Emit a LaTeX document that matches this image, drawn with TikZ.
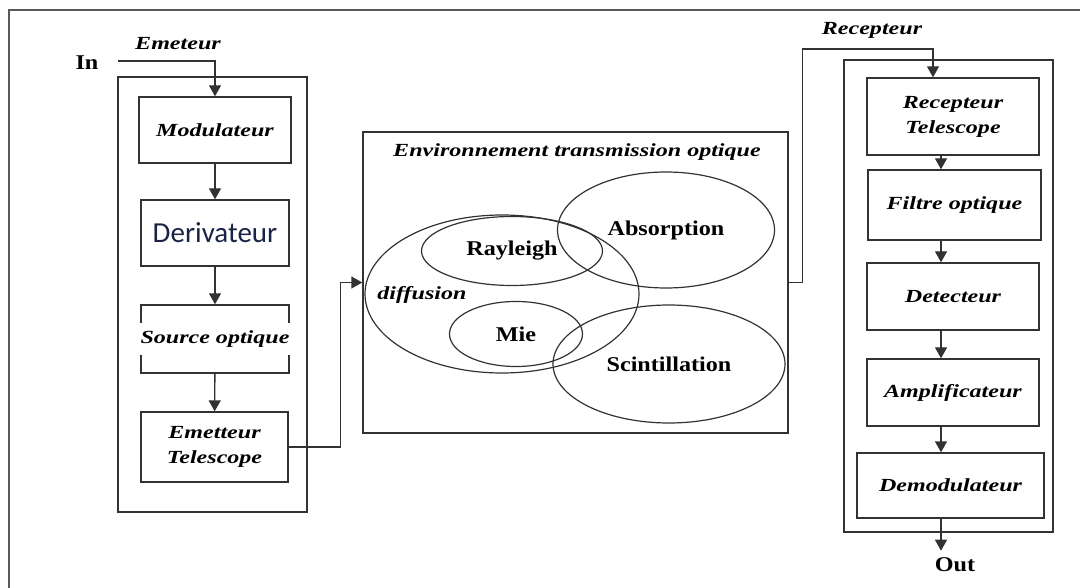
\documentclass[tikz,border=0pt]{standalone}
\usepackage{fontspec}
\setmainfont{Liberation Serif}
\newfontfamily\itfont[FakeStretch=1.3]{Liberation Serif}
\newfontfamily\bffont[FakeStretch=1.15]{Liberation Serif}
\newfontfamily\sansfont{Carlito}
\usepackage{tikz}
\usetikzlibrary{arrows.meta,positioning,shapes.geometric}
\definecolor{ink}{RGB}{50,50,50}
\definecolor{navy}{RGB}{25,35,70}

\begin{document}
\begin{tikzpicture} [x=1pt, y=-1pt,
  lab/.style={font=\itfont\bfseries\itshape\fontsize{18.5}{22}\selectfont, inner sep=0pt},
  gras/.style={font=\bffont\bfseries\fontsize{21}{24}\selectfont, inner sep=0pt},
  cadre/.style={draw=ink, line width=1.4pt, inner sep=0pt},
  blok/.style={cadre, lab, align=center},
  bulle/.style={ellipse, draw=ink, line width=1.2pt, gras},
  trait/.style={draw=ink, line width=1.4pt},
  fl/.style={trait, -{Triangle[width=12pt,length=11pt]}}]

\useasboundingbox (0,0) rectangle (1080,588);
\draw [color=gray!70!black, line width=1.6pt] (9,588) -- (9,10) -- (1080,10);

% emetteur
\node (tx) [cadre, minimum width=189pt, minimum height=435pt] at (212.5,294.5) {};
\node (in) [gras] at (87,63) {In};
\node (txl) [lab] at (178,44) {Emeteur};
\coordinate (inS) at (118,61);

\node (mod) [blok, minimum width=152pt, minimum height=66pt] at (215,130) {Modulateur};
\node (der) [blok, minimum width=148pt, minimum height=66pt, font=\sansfont\fontsize{29}{32}\selectfont, text=navy] at (215,233) {Derivateur};
\node (src) [cadre, minimum width=148pt, minimum height=68pt] at (215,339) {};
\node (srct) [lab, fill=white, inner xsep=3pt, inner ysep=8pt] at (src.center) {Source optique};
\node (emt) [blok, minimum width=147pt, minimum height=70pt] at (214.5,447) {Emetteur\\[3pt]Telescope};

\draw [fl] (inS) -| (mod.north);
\draw [fl] (mod) -- (der);
\draw [fl] (der) -- (src);
\draw [fl] (src) -- (emt);

% canal
\node (env) [cadre, minimum width=425pt, minimum height=301pt] at (575.5,282.5) {};
\node (envt) [lab] at (577,152) {Environnement transmission optique};

\node (dif) [ellipse, draw=ink, line width=1.2pt, minimum width=274pt, minimum height=158pt] at (502,294) {};
\node (difft) [lab] at (422,295) {diffusion};
\node (ray) [bulle, minimum width=181pt, minimum height=69pt] at (512,251) {Rayleigh};
\node (mie) [bulle, minimum width=133pt, minimum height=65pt] at (516,334) {Mie};
\node (abs) [bulle, minimum width=217pt, minimum height=116pt] at (666,230) {Absorption};
\node (sci) [bulle, minimum width=232pt, minimum height=118pt] at (669,364) {Scintillation};

\draw [fl] (emt.east) -- ++(52,0) |- (env.west);

% recepteur
\node (rx) [cadre, minimum width=209pt, minimum height=472pt] at (948.5,296) {};
\node (rxl) [lab] at (872,30) {Recepteur};
\coordinate (rtop) at (933,49);
\coordinate (colR) at (941,0);

\node (rtel) [blok, minimum width=172pt, minimum height=77pt] at (953,116.5) {Recepteur\\[3pt]Telescope};
\node (filt) [blok, minimum width=173pt, minimum height=70pt] at (954.5,205) {Filtre optique};
\node (det) [blok, minimum width=172pt, minimum height=67pt] at (953,296.5) {Detecteur};
\node (amp) [blok, minimum width=172pt, minimum height=67pt] at (953,392.5) {Amplificateur};
\node (dem) [blok, minimum width=187pt, minimum height=65pt] at (950.5,485.5) {Demodulateur};
\node (out) [gras] at (955,565) {Out};

\draw [fl] (env.east) -- ++(14,0) |- (rtop) -- (rtop |- rtel.north);
\draw [fl] (rtel.south -| colR) -- (filt.north -| colR);
\draw [fl] (filt.south -| colR) -- (det.north -| colR);
\draw [fl] (det.south -| colR) -- (amp.north -| colR);
\draw [fl] (amp.south -| colR) -- (dem.north -| colR);
\draw [fl] (dem.south -| colR) -- ++(0,32);

\end{tikzpicture}
\end{document}
